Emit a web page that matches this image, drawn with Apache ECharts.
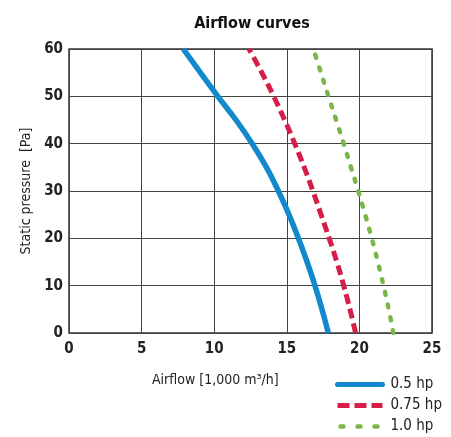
<!DOCTYPE html>
<html><head><meta charset="utf-8">
<script src="https://cdn.jsdelivr.net/npm/echarts@6/dist/echarts.min.js"></script>
<style>html,body{margin:0;padding:0;background:#fff}#c{width:451px;height:437px}</style>
</head><body><div id="c"></div>
<script>
const pressure = [0, 5, 10, 15, 20, 25, 30, 35, 40, 45, 50, 55, 60];
const flow05 = [17.86, 17.42, 16.94, 16.4, 15.8, 15.15, 14.42, 13.6, 12.62, 11.5, 10.25, 9.05, 7.87];
const flow075 = [19.74, 19.35, 18.92, 18.45, 17.92, 17.36, 16.8, 16.2, 15.55, 14.85, 14.1, 13.28, 12.4];
const flow10 = [22.34, 22.02, 21.66, 21.27, 20.85, 20.4, 19.92, 19.42, 18.92, 18.4, 17.87, 17.35, 16.83];
const xTicks = [0, 5, 10, 15, 20, 25];
const yTicks = [0, 10, 20, 30, 40, 50, 60];
const seriesNames = ['0.5 hp', '0.75 hp', '1.0 hp'];

const FONT = '"Liberation Sans Narrow", "DejaVu Sans Condensed", "Liberation Sans", sans-serif';
const pairs = arr => arr.map((x, i) => [x, pressure[i]]);
const BLUE = '#1189cc', RED = '#d51f48', GREEN = '#7ab648';

const chart = echarts.init(document.getElementById('c'), null, {renderer: 'canvas'});
chart.setOption({
  animation: false,
  backgroundColor: '#fff',
  title: {
    text: 'Airflow curves', left: 247, top: 11, textAlign: 'center',
    textStyle: {fontFamily: FONT, fontWeight: 'bold', fontSize: 16, color: '#111'}
  },
  grid: {left: 69, right: 19, top: 49, bottom: 104, show: true, borderColor: '#333', borderWidth: 1.5, backgroundColor: 'transparent'},
  xAxis: {
    type: 'value', min: xTicks[0], max: xTicks[xTicks.length - 1], interval: 5,
    axisLine: {show: false}, axisTick: {show: false},
    splitLine: {show: true, lineStyle: {color: '#444', width: 1}},
    axisLabel: {fontFamily: FONT, fontWeight: 'bold', fontSize: 15, color: '#222', margin: 9}
  },
  yAxis: {
    type: 'value', min: yTicks[0], max: yTicks[yTicks.length - 1], interval: 10,
    name: 'Static pressure  [Pa]', nameLocation: 'middle', nameGap: 34, nameRotate: 90,
    nameTextStyle: {fontFamily: FONT, fontSize: 14, color: '#222'},
    axisLine: {show: false}, axisTick: {show: false},
    splitLine: {show: true, lineStyle: {color: '#444', width: 1}},
    axisLabel: {fontFamily: FONT, fontWeight: 'bold', fontSize: 15, color: '#222', margin: 6}
  },
  graphic: [{
    type: 'text', left: 152, top: 373,
    style: {text: 'Airflow [1,000 m³/h]', fontFamily: FONT, fontSize: 14, fill: '#222'}
  }],
  legend: {
    orient: 'vertical', left: 335, top: 377, width: 116, height: 60, itemWidth: 45, itemHeight: 14, itemGap: 6,
    padding: 0,
    itemStyle: {opacity: 0},
    textStyle: {fontFamily: FONT, fontSize: 15, color: '#222', padding: [0, 0, 0, 3]},
    data: [
      {name: seriesNames[0], lineStyle: {width: 5, cap: 'round'}},
      {name: seriesNames[1], lineStyle: {width: 5, type: [12, 5]}},
      {name: seriesNames[2], lineStyle: {width: 4.5, type: [3, 14], cap: 'round', dashOffset: -3}}
    ]
  },
  series: [
    {name: seriesNames[0], type: 'line', smooth: 0.4, symbol: 'none', data: pairs(flow05),
     lineStyle: {color: BLUE, width: 5.5}, itemStyle: {color: BLUE}},
    {name: seriesNames[1], type: 'line', smooth: 0.4, symbol: 'none', data: pairs(flow075),
     lineStyle: {color: RED, width: 5, type: [10, 5]}, itemStyle: {color: RED}},
    {name: seriesNames[2], type: 'line', smooth: 0.4, symbol: 'none', data: pairs(flow10),
     lineStyle: {color: GREEN, width: 4.5, type: [3, 10], cap: 'round'}, itemStyle: {color: GREEN}}
  ]
});
</script></body></html>
